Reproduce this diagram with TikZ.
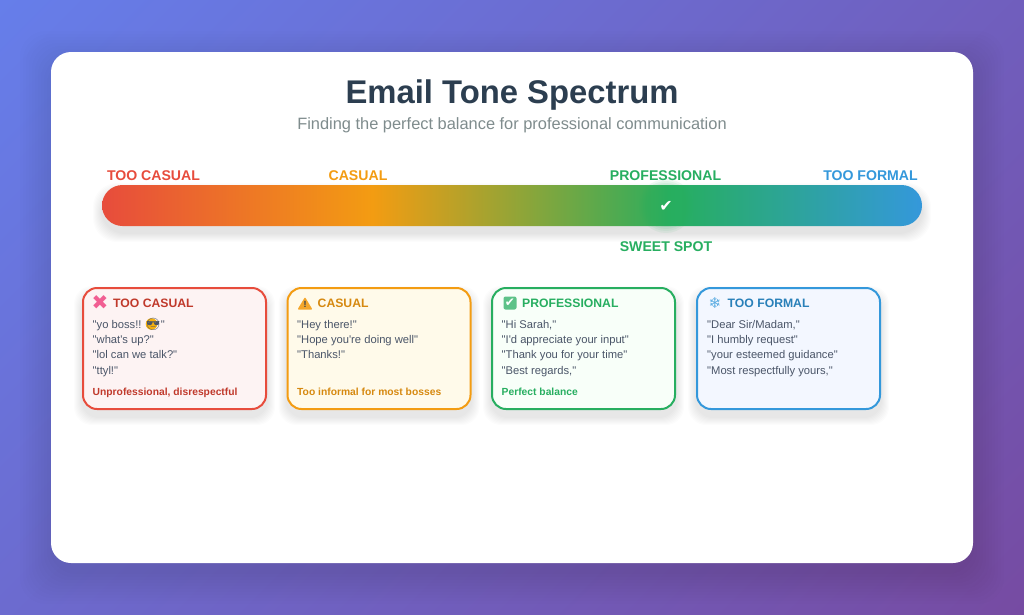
\documentclass[tikz,border=0pt]{standalone}
\usepackage{fontspec}
\usepackage{xcolor}
\usetikzlibrary{shadings}
\setmainfont[Ligatures=TeXOff]{Liberation Sans}
\newfontfamily\emojifont{Noto Emoji}
\newfontfamily\symbolfont{DejaVu Sans}
\definecolor{bgblue}{HTML}{667EEA}
\definecolor{bgpurple}{HTML}{764BA2}
\colorlet{bgupper}{bgpurple!62.5!bgblue}
\colorlet{bglower}{bgpurple!37.5!bgblue}
\definecolor{toneA}{HTML}{E74C3C}
\definecolor{toneB}{HTML}{F39C12}
\definecolor{toneC}{HTML}{27AE60}
\definecolor{toneD}{HTML}{3498DB}
\definecolor{inkA}{HTML}{C0392B}
\definecolor{inkB}{HTML}{D68910}
\definecolor{inkD}{HTML}{2980B9}
\definecolor{fillA}{HTML}{FDF3F3}
\definecolor{fillB}{HTML}{FFFAEA}
\definecolor{fillC}{HTML}{F8FFF9}
\definecolor{fillD}{HTML}{F3F7FF}
\definecolor{titleink}{HTML}{2C3E50}
\definecolor{subink}{HTML}{7F8C8D}
\definecolor{bodyink}{HTML}{4A5568}
\pgfdeclarehorizontalshading{tonebar}{100bp}{
  color(0bp)=(toneA); color(25bp)=(toneA); color(41.5bp)=(toneB);
  color(60bp)=(toneC); color(75bp)=(toneD); color(100bp)=(toneD)}
\tikzset{
  barlabel/.style={font=\fontsize{14.1}{16}\selectfont\bfseries,anchor=base},
  cardbox/.style={line width=2pt,rounded corners=14pt,minimum width=183pt,minimum height=121pt,inner sep=0pt},
  cardhead/.style={font=\fontsize{12.2}{14}\selectfont\bfseries,anchor=base west,inner sep=0pt},
  cardicon/.style={font=\fontsize{14}{14}\selectfont,anchor=center,inner sep=0pt},
  cardline/.style={font=\fontsize{11.2}{14}\selectfont,text=bodyink,anchor=base west,inner sep=0pt},
  cardnote/.style={font=\fontsize{10.3}{12}\selectfont\bfseries,anchor=base west,inner sep=0pt}
}
\begin{document}
\begin{tikzpicture}[x=1pt,y=-1pt]
  \useasboundingbox (0,0) rectangle (1024,614);
  \shade[upper left=bgblue,upper right=bgupper,lower left=bglower,lower right=bgpurple] (0,0) rectangle (1024,614);
  \foreach \s in {1,4,...,31} \fill[black,opacity=0.006,rounded corners=26pt] (51-\s,62-\s) rectangle (973+\s,573+\s);
  \fill[white,rounded corners=20pt] (51,52) rectangle (973,563);
  \node[font=\fontsize{32.8}{38}\selectfont\bfseries,text=titleink,anchor=base] (title) at (512,103) {Email Tone Spectrum};
  \node[font=\fontsize{16.4}{18}\selectfont,text=subink,anchor=base] (subtitle) at (512,129) {Finding the perfect balance for professional communication};
  \foreach \s in {1,2,...,9} \fill[black,opacity=0.012,rounded corners=24pt] (102-\s,192-\s) rectangle (922+\s,233+\s);
  \shade[shading=tonebar,rounded corners=20.5pt] (102,185) rectangle (922,226);
  \foreach \s in {19,21,...,27} \fill[toneC,opacity=0.07] (666,206) circle(\s pt);
  \node[font=\symbolfont\fontsize{16}{18}\selectfont,text=white] (check) at (666,206) {✔};
  \node[barlabel,text=toneA] (labelA) at (153.5,180) {TOO CASUAL};
  \node[barlabel,text=toneB] (labelB) at (358,180) {CASUAL};
  \node[barlabel,text=toneC] (labelC) at (665.5,180) {PROFESSIONAL};
  \node[barlabel,text=toneD] (labelD) at (870.5,180) {TOO FORMAL};
  \node[barlabel,text=toneC] (sweetspot) at (666,251) {SWEET SPOT};
  \foreach \x in {82,286.5,491,696}
    \foreach \s in {1,2,...,8} \fill[black,opacity=0.012,rounded corners=18pt] (\x-\s,294-\s) rectangle (\x+185+\s,417+\s);
  \node[cardbox,draw=toneA,fill=fillA] (cardA) at (174.5,348.5) {};
  \node[cardicon,text=toneA!70!magenta!80!white,font=\symbolfont\fontsize{20}{22}\selectfont] (iconA) at (100,303) {✖};
  \node[cardhead,text=inkA] (headA) at (113,307.5) {TOO CASUAL};
  \fill[toneB!80!yellow] (151.5,324) circle(5.8pt);
  \foreach \txt [count=\i] in {{"yo boss!! {\emojifont\fontsize{12}{14}\selectfont\color{bodyink}😎}"},{"what's up?"},{"lol can we talk?"},{"ttyl!"}}
    \node[cardline] (lineA\i) at (92.5,{328+15.4*(\i-1)}) {\txt};
  \node[cardnote,text=inkA] (noteA) at (92.5,395) {Unprofessional, disrespectful};
  \node[cardbox,draw=toneB,fill=fillB] (cardB) at (379,348.5) {};
  \fill[toneB!90!white,rounded corners=1pt] (305,297) -- (312.5,309.5) -- (297.5,309.5) -- cycle;
  \node[cardicon,font=\fontsize{9}{9}\selectfont\bfseries,text=titleink] (iconB) at (305,304.5) {!};
  \node[cardhead,text=inkB] (headB) at (317.5,307.5) {CASUAL};
  \foreach \txt [count=\i] in {{"Hey there!"},{"Hope you're doing well"},{"Thanks!"}}
    \node[cardline] (lineB\i) at (297,{328+15.4*(\i-1)}) {\txt};
  \node[cardnote,text=inkB] (noteB) at (297,395) {Too informal for most bosses};
  \node[cardbox,draw=toneC,fill=fillC] (cardC) at (583.5,348.5) {};
  \fill[toneC!75!white,rounded corners=2pt] (503.5,296.5) rectangle (516.5,309.5);
  \node[cardicon,font=\symbolfont\fontsize{12}{13}\selectfont,text=white] (iconC) at (510,303) {✔};
  \node[cardhead,text=toneC] (headC) at (522,307.5) {PROFESSIONAL};
  \foreach \txt [count=\i] in {{"Hi Sarah,"},{"I'd appreciate your input"},{"Thank you for your time"},{"Best regards,"}}
    \node[cardline] (lineC\i) at (501.5,{328+15.4*(\i-1)}) {\txt};
  \node[cardnote,text=toneC] (noteC) at (501.5,395) {Perfect balance};
  \node[cardbox,draw=toneD,fill=fillD] (cardD) at (788.5,348.5) {};
  \node[cardicon,text=toneD!80!white,font=\symbolfont\fontsize{15}{16}\selectfont] (iconD) at (715,303) {❄};
  \node[cardhead,text=inkD] (headD) at (727.5,307.5) {TOO FORMAL};
  \foreach \txt [count=\i] in {{"Dear Sir/Madam,"},{"I humbly request"},{"your esteemed guidance"},{"Most respectfully yours,"}}
    \node[cardline] (lineD\i) at (707,{328+15.4*(\i-1)}) {\txt};
\end{tikzpicture}
\end{document}
